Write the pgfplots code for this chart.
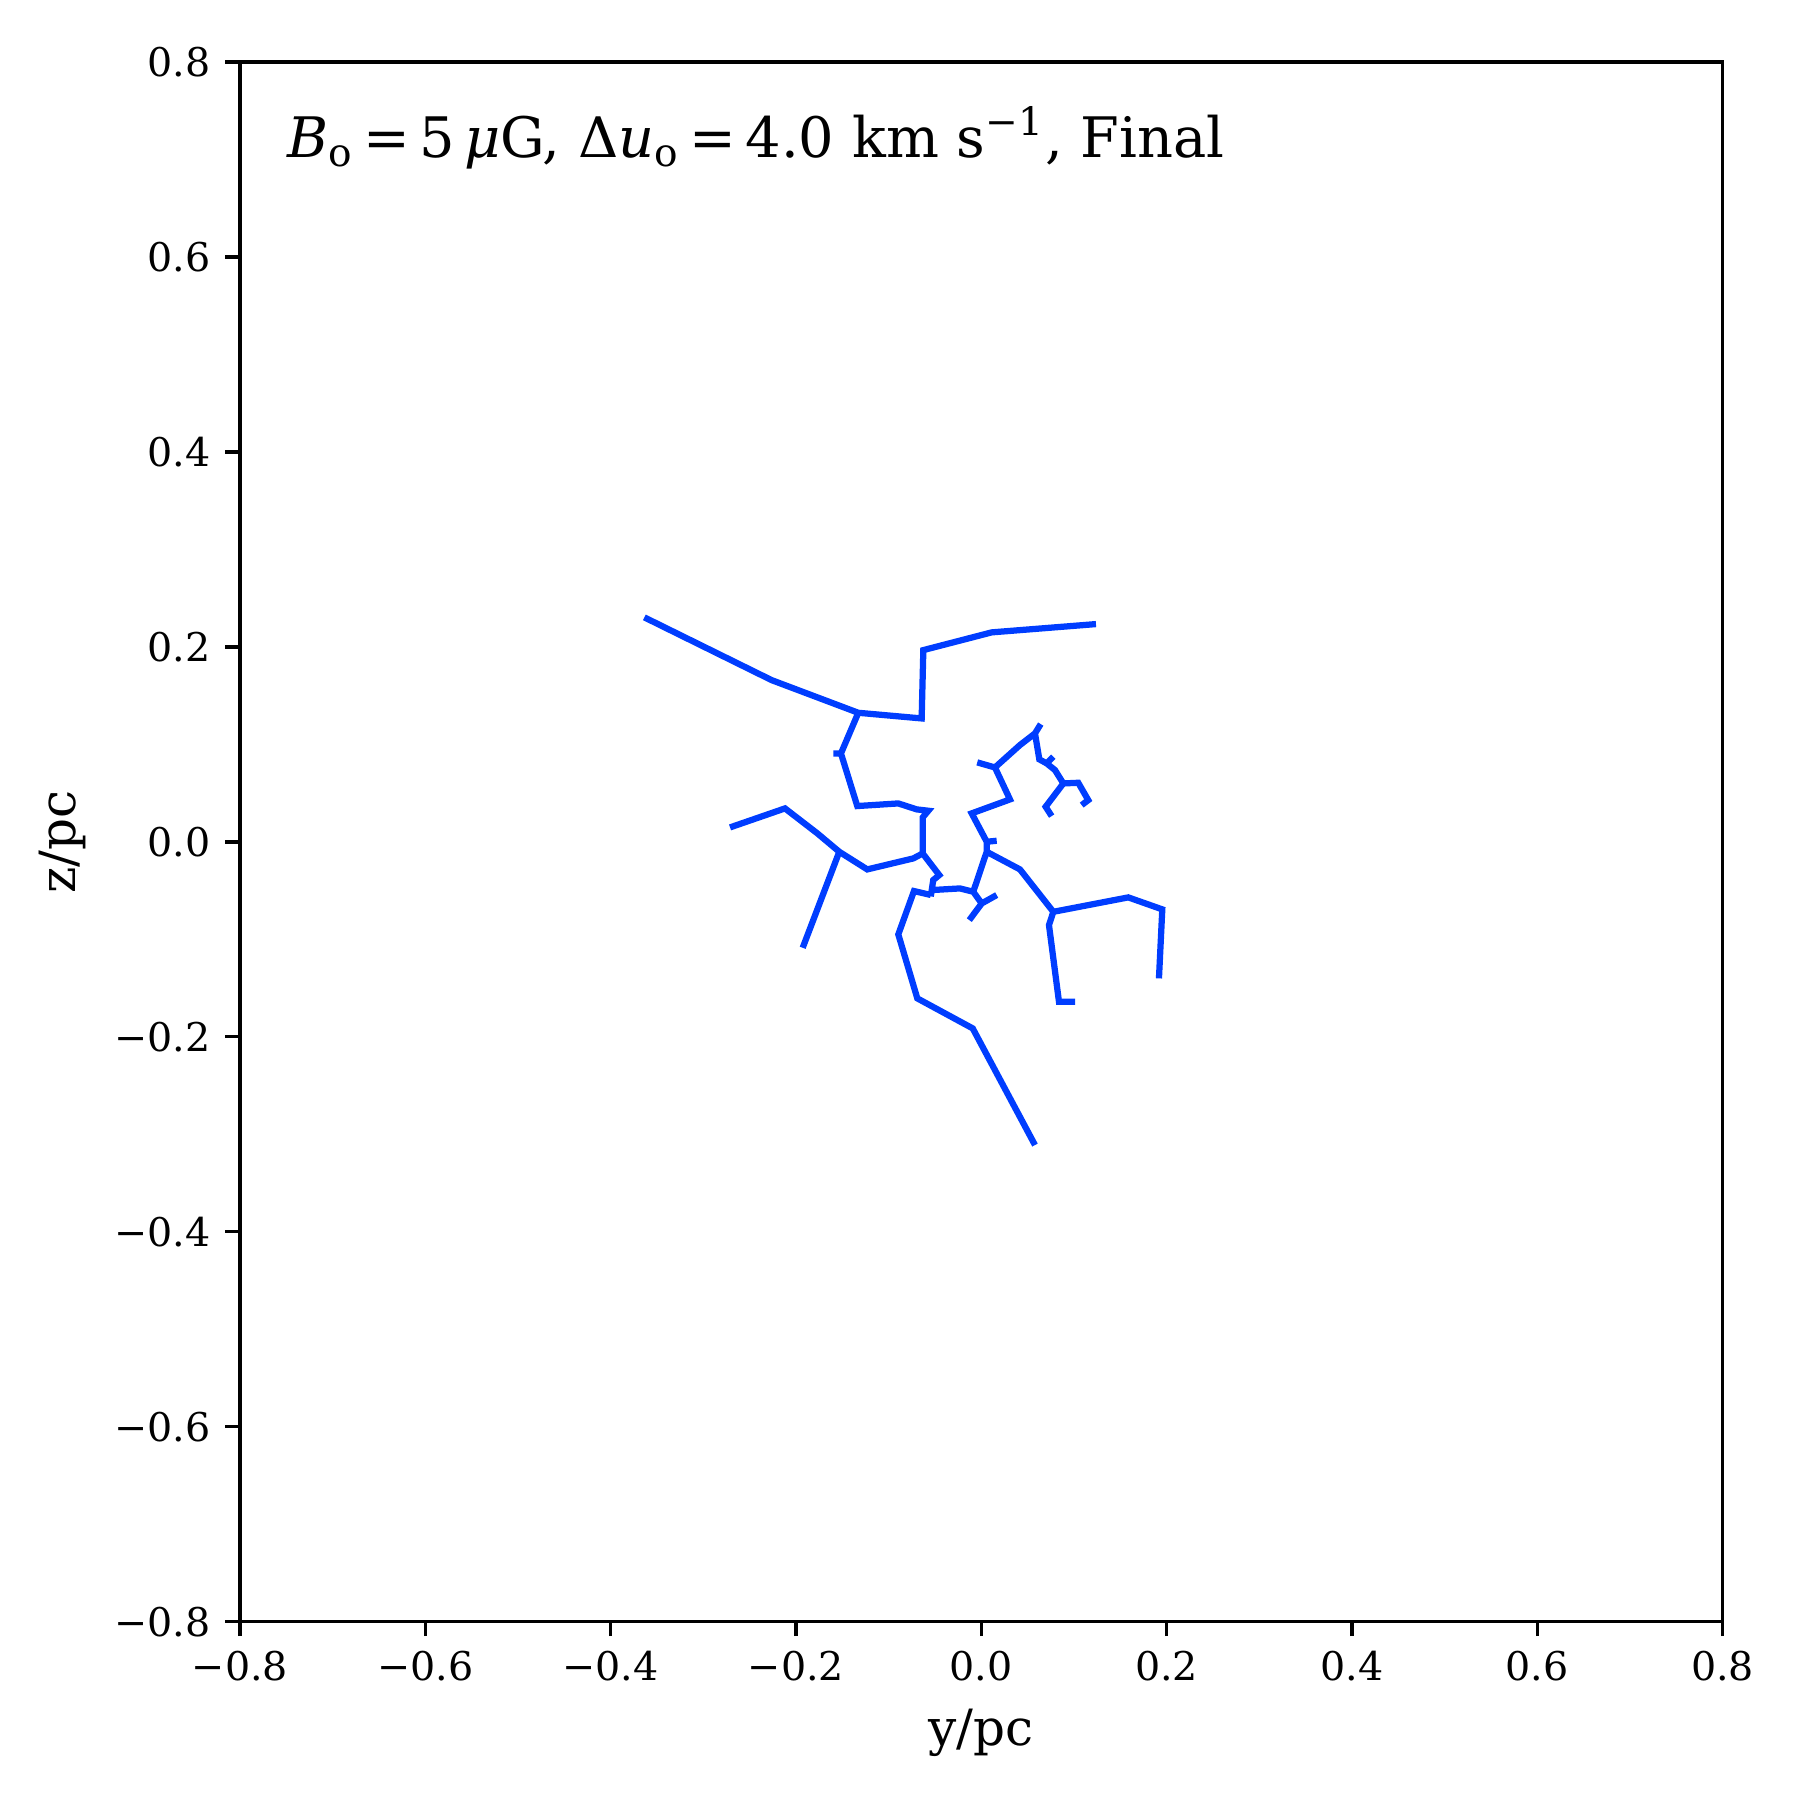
\documentclass[border=0pt]{standalone}
\usepackage{fontspec}
\setmainfont{DejaVu Serif}
\usepackage{pgfplots}
\pgfplotsset{compat=1.18}
\definecolor{treeblue}{RGB}{0,61,255}

% branches of the tree, separated by nan rows
\pgfplotstableread{
x y
-0.3636 0.2303
-0.2262 0.1659
-0.1327 0.1324
-0.0643 0.1266
-0.0625 0.1967
0.0113 0.2149
0.1238 0.2234
nan nan
-0.1327 0.1324
-0.1514 0.0907
-0.1596 0.0907
nan nan
-0.1514 0.0907
-0.1338 0.0367
-0.0895 0.0394
-0.0697 0.0333
-0.0571 0.0319
-0.0632 0.0250
-0.0632 -0.0119
nan nan
-0.0632 -0.0119
-0.0733 -0.0170
-0.1230 -0.0283
-0.1532 -0.0102
-0.1769 0.0087
-0.2118 0.0343
-0.2711 0.0148
nan nan
-0.1532 -0.0102
-0.1927 -0.1087
nan nan
-0.0632 -0.0119
-0.0453 -0.0341
-0.0518 -0.0392
-0.0535 -0.0500
-0.0545 -0.0560
nan nan
-0.0545 -0.0545
-0.0726 -0.0505
-0.0895 -0.0950
-0.0690 -0.1606
-0.0092 -0.1914
0.0580 -0.3111
nan nan
-0.0535 -0.0495
-0.0229 -0.0478
-0.0086 -0.0512
0.0005 -0.0632
0.0167 -0.0546
nan nan
0.0005 -0.0632
-0.0129 -0.0803
nan nan
-0.0086 -0.0512
0.0059 -0.0102
0.0059 0.0001
0.0167 0.0011
nan nan
0.0059 0.0001
-0.0103 0.0292
0.0310 0.0435
0.0148 0.0763
-0.0043 0.0815
nan nan
0.0148 0.0763
0.0418 0.0993
0.0580 0.1112
0.0642 0.1208
nan nan
0.0580 0.1112
0.0627 0.0846
0.0706 0.0805
0.0778 0.0873
nan nan
0.0706 0.0805
0.0796 0.0736
0.0886 0.0599
0.1047 0.0606
0.1155 0.0428
0.1084 0.0377
nan nan
0.0886 0.0599
0.0695 0.0360
0.0760 0.0264
nan nan
0.0059 -0.0102
0.0418 -0.0283
0.0778 -0.0718
0.1587 -0.0570
0.1954 -0.0693
0.1918 -0.1401
nan nan
0.0778 -0.0718
0.0731 -0.0854
0.0839 -0.1641
0.1012 -0.1641
}\treedata

\begin{document}
\begin{tikzpicture}
\begin{axis}[
  name=ax,
  scale only axis,
  width=355.8pt, height=374.3pt,
  xmin=-0.8, xmax=0.8, ymin=-0.8, ymax=0.8,
  xtick={-0.8,-0.6,-0.4,-0.2,0,0.2,0.4,0.6,0.8},
  ytick={-0.8,-0.6,-0.4,-0.2,0,0.2,0.4,0.6,0.8},
  xticklabels={−0.8,−0.6,−0.4,−0.2,0.0,0.2,0.4,0.6,0.8},
  yticklabels={−0.8,−0.6,−0.4,−0.2,0.0,0.2,0.4,0.6,0.8},
  ticklabel style={font=\fontsize{9.5}{11}\selectfont},
  tick align=outside,
  tick pos=left,
  major tick length=3.5pt,
  tick style={black, line width=0.8pt},
  axis line style={line width=0.8pt},
  xlabel={y/pc}, ylabel={z/pc},
  label style={font=\fontsize{12}{14}\selectfont},
  unbounded coords=jump,
  clip=true,
]
\addplot[treeblue, line width=1.5pt, no markers] table[x=x, y=y] {\treedata};
\node[anchor=base west, font=\fontsize{13.4}{16}\selectfont, inner sep=0pt]
  at (axis cs:-0.75,0.7025)
  {\textit{B}\textsubscript{o}\,=\,5\,\textit{μ}G, Δ\textit{u}\textsubscript{o}\,=\,4.0 km s\textsuperscript{−1}, Final};
\end{axis}
\path ([shift={(-57.6pt,-42.8pt)}]ax.south west) rectangle ([shift={(18.6pt,14.9pt)}]ax.north east);
\end{tikzpicture}
\end{document}
